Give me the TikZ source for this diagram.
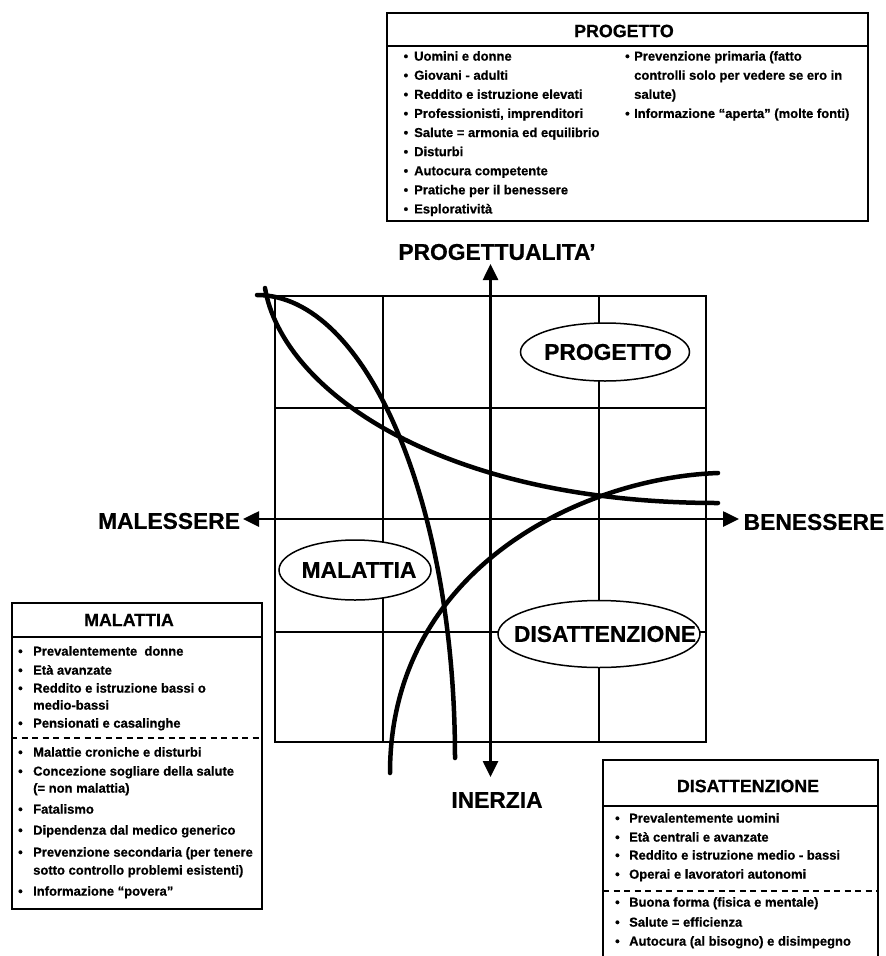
\documentclass[tikz,border=0pt]{standalone}
\usepackage{fontspec}
\setmainfont{Liberation Sans}[BoldFeatures={FakeBold=0.6}]
\usetikzlibrary{arrows.meta,shapes.geometric}
\newcommand{\bulgap}[1]{\llap{•\hspace{#1}}}
\begin{document}
\begin{tikzpicture}[x=1pt,y=-1pt,
  every node/.style={inner sep=0pt, font=\bfseries},
  gridln/.style={line width=1.5pt},
  axisln/.style={line width=2.6pt, {Triangle[width=15pt,length=16pt]}-{Triangle[width=15pt,length=16pt]}},
  curveln/.style={line width=4.5pt, line cap=round, line join=round},
  regionshape/.style={ellipse, draw, fill=white, line width=1.5pt},
  regiontext/.style={font=\fontsize{22.8}{26}\selectfont\bfseries},
  axislabel/.style={font=\fontsize{22.8}{26}\selectfont\bfseries},
  boxframe/.style={draw, fill=white, line width=2pt, anchor=north west},
  sepln/.style={line width=1.5pt},
  dashln/.style={line width=1.3pt, dash pattern=on 6pt off 4.5pt},
  boxtitle/.style={font=\fontsize{17.8}{20}\selectfont\bfseries},
  item/.style={anchor=mid west, font=\fontsize{13}{15}\selectfont\bfseries},
]
\useasboundingbox (0,0) rectangle (886,956);
\fill[white] (0,0) rectangle (886,956);

% grid
\draw[gridln] (275,296) rectangle (706,742);
\foreach \x in {383,490.5,599} \draw[gridln] (\x,296) -- (\x,742);
\foreach \y in {408,519,632} \draw[gridln] (275,\y) -- (706,\y);

% region ellipses
\node[regionshape, minimum width=169pt, minimum height=58pt] (eprog) at (605,352) {};
\node[regiontext] (rprog) at (608,352) {PROGETTO};
\node[regionshape, minimum width=152pt, minimum height=60pt] (emal) at (355,570) {};
\node[regiontext] (rmal) at (359,570) {MALATTIA};
\node[regionshape, minimum width=202pt, minimum height=67pt] (edis) at (599,634) {};
\node[regiontext] (rdis) at (605,634) {DISATTENZIONE};

% axes
\node[axislabel] (prog) at (497,252) {PROGETTUALITA’};
\node[axislabel] (males) at (169,521) {MALESSERE};
\node[axislabel] (benes) at (814,522) {BENESSERE};
\node[axislabel] (inerz) at (497,800) {INERZIA};
\coordinate (ltip) at (243,519);
\coordinate (rtip) at (739,519);
\coordinate (ttip) at (490.5,264);
\coordinate (btip) at (490.5,777);
\draw[axisln] (ltip) -- (rtip);
\draw[axisln] (ttip) -- (btip);

% curves
\coordinate (c1a) at (257,295);
\coordinate (c1b) at (455,758);
\draw[curveln] (c1a) .. controls (366,295) and (455,502) .. (c1b);
\coordinate (c2a) at (265,288);
\coordinate (c2b) at (718,503);
\draw[curveln] (c2a) .. controls (282,390) and (440,503) .. (c2b);
\coordinate (c3a) at (390,773);
\coordinate (c3b) at (718,473);
\draw[curveln] (c3a) .. controls (390,570) and (580,478) .. (c3b);

% PROGETTO box
\node[boxframe, minimum width=481pt, minimum height=208pt] (progbox) at (386,12) {};
\node[boxtitle] (tprog) at (624,31) {PROGETTO};
\draw[sepln] (386,46) -- (867,46);
\node[item] (pa1) at (414,58.0) {\bulgap{6pt}Uomini e donne};
\node[item] (pa2) at (414,77.1) {\bulgap{6pt}Giovani - adulti};
\node[item] (pa3) at (414,96.2) {\bulgap{6pt}Reddito e istruzione elevati};
\node[item] (pa4) at (414,115.3) {\bulgap{6pt}Professionisti, imprenditori};
\node[item] (pa5) at (414,134.4) {\bulgap{6pt}Salute = armonia ed equilibrio};
\node[item] (pa6) at (414,153.5) {\bulgap{6pt}Disturbi};
\node[item] (pa7) at (414,172.6) {\bulgap{6pt}Autocura competente};
\node[item] (pa8) at (414,191.7) {\bulgap{6pt}Pratiche per il benessere};
\node[item] (pa9) at (414,210.8) {\bulgap{6pt}Esploratività};
\node[item] (pb1) at (634,58.0) {\bulgap{4.5pt}Prevenzione primaria (fatto};
\node[item] (pb2) at (634,77.1) {controlli solo per vedere se ero in};
\node[item] (pb3) at (634,96.2) {salute)};
\node[item] (pb4) at (634,115.3) {\bulgap{4.5pt}Informazione “aperta” (molte fonti)};

% MALATTIA box
\node[boxframe, minimum width=250pt, minimum height=306pt] (malbox) at (11,602) {};
\node[boxtitle] (tmal) at (129,620) {MALATTIA};
\draw[sepln] (11,637) -- (261,637);
\draw[dashln] (11,738) -- (261,738);
\node[item] (ma1) at (33,653) {\bulgap{10.5pt}Prevalentemente~ donne};
\node[item] (ma2) at (33,672) {\bulgap{10.5pt}Età avanzate};
\node[item] (ma3) at (33,690) {\bulgap{10.5pt}Reddito e istruzione bassi o};
\node[item] (ma4) at (33,707) {medio-bassi};
\node[item] (ma5) at (33,725) {\bulgap{10.5pt}Pensionati e casalinghe};
\node[item] (ma6) at (33,754) {\bulgap{10.5pt}Malattie croniche e disturbi};
\node[item] (ma7) at (33,773) {\bulgap{10.5pt}Concezione sogliare della salute};
\node[item] (ma8) at (33,790) {(= non malattia)};
\node[item] (ma9) at (33,811) {\bulgap{10.5pt}Fatalismo};
\node[item] (ma10) at (33,832) {\bulgap{10.5pt}Dipendenza dal medico generico};
\node[item] (ma11) at (33,854) {\bulgap{10.5pt}Prevenzione secondaria (per tenere};
\node[item] (ma12) at (33,872) {sotto controllo problemi esistenti)};
\node[item] (ma13) at (33,893) {\bulgap{10.5pt}Informazione “povera”};

% DISATTENZIONE box (bottom edge beyond the page)
\fill[white] (603,760) rectangle (878,956);
\draw[line width=2pt] (603,956) -- (603,760) -- (878,760) -- (878,956);
\node[boxtitle] (tdis) at (748,786) {DISATTENZIONE};
\draw[sepln] (603,806) -- (878,806);
\draw[dashln] (603,891) -- (878,891);
\node[item] (da1) at (629,820) {\bulgap{9.5pt}Prevalentemente uomini};
\node[item] (da2) at (629,839) {\bulgap{9.5pt}Età centrali e avanzate};
\node[item] (da3) at (629,857) {\bulgap{9.5pt}Reddito e istruzione medio - bassi};
\node[item] (da4) at (629,876) {\bulgap{9.5pt}Operai e lavoratori autonomi};
\node[item] (da5) at (629,904) {\bulgap{9.5pt}Buona forma (fisica e mentale)};
\node[item] (da6) at (629,924) {\bulgap{9.5pt}Salute = efficienza};
\node[item] (da7) at (629,943) {\bulgap{9.5pt}Autocura (al bisogno) e disimpegno};
\end{tikzpicture}
\end{document}
